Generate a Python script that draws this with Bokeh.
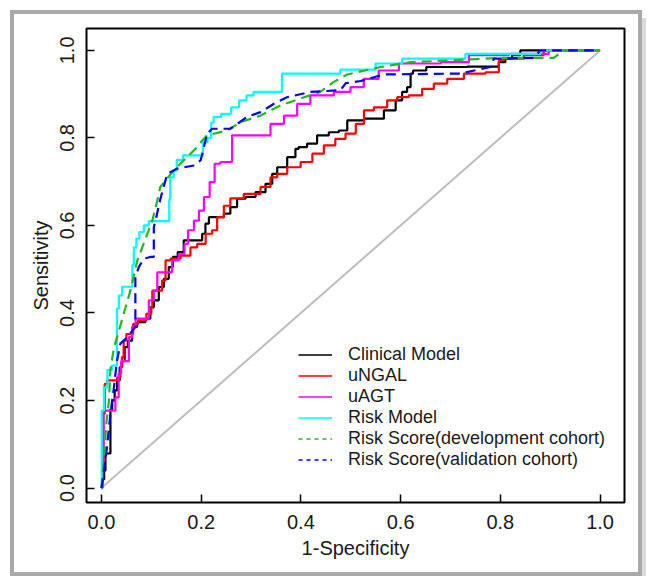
import math
from bokeh.plotting import figure
from bokeh.models import Range1d, FixedTicker, Legend, LegendItem, NumeralTickFormatter
from bokeh.embed import file_html
from bokeh.resources import INLINE

# ---------------- data (1-specificity, sensitivity) ----------------
tick_values = [0.0, 0.2, 0.4, 0.6, 0.8, 1.0]

labels = ["Clinical Model", "uNGAL", "uAGT", "Risk Model",
          "Risk Score(development cohort)", "Risk Score(validation cohort)"]

clinical_fpr = [0, 0.003, 0.008, 0.008, 0.018, 0.018, 0.025, 0.028, 0.035, 0.038, 0.045, 0.048, 0.058, 0.065,
                0.078, 0.098, 0.098, 0.112, 0.118, 0.132, 0.138, 0.148, 0.158, 0.172, 0.199, 0.205, 0.212, 0.219,
                0.239, 0.252, 0.265, 0.279, 0.299, 0.319, 0.339, 0.346, 0.359, 0.386, 0.392, 0.399, 0.426, 0.439,
                0.446, 0.466, 0.486, 0.5, 0.553, 0.58, 0.6, 0.606, 0.62, 0.62, 0.63, 0.673, 0.794, 0.80, 0.82,
                0.827, 0.84, 0.84, 1.0]
clinical_tpr = [0, 0.02, 0.04, 0.079, 0.079, 0.18, 0.2, 0.223, 0.246, 0.276, 0.29, 0.322, 0.337, 0.368,
                0.379, 0.387, 0.413, 0.429, 0.459, 0.478, 0.505, 0.528, 0.539, 0.566, 0.566, 0.581, 0.604, 0.619,
                0.619, 0.627, 0.642, 0.661, 0.665, 0.676, 0.695, 0.718, 0.733, 0.756, 0.775, 0.779, 0.787, 0.806,
                0.806, 0.813, 0.817, 0.84, 0.844, 0.863, 0.886, 0.905, 0.916, 0.947, 0.954, 0.962, 0.963, 0.973,
                0.981, 0.989, 0.989, 1.0, 1.0]

ungal_fpr = [0, 0.003, 0.005, 0.008, 0.015, 0.028, 0.035, 0.041, 0.041, 0.048, 0.052, 0.062, 0.065, 0.082,
             0.098, 0.102, 0.102, 0.118, 0.125, 0.132, 0.145, 0.172, 0.185, 0.199, 0.219, 0.225, 0.239, 0.252,
             0.265, 0.306, 0.332, 0.346, 0.359, 0.386, 0.413, 0.433, 0.459, 0.479, 0.5, 0.52, 0.533, 0.56,
             0.586, 0.6, 0.633, 0.653, 0.68, 0.707, 0.747, 0.794, 0.80, 0.814, 0.88, 0.894, 1.0]
ungal_tpr = [0, 0.05, 0.17, 0.238, 0.246, 0.246, 0.253, 0.276, 0.299, 0.337, 0.352, 0.352, 0.375, 0.383,
             0.398, 0.413, 0.451, 0.451, 0.474, 0.52, 0.524, 0.531, 0.55, 0.558, 0.581, 0.589, 0.619, 0.645,
             0.662, 0.672, 0.688, 0.71, 0.718, 0.733, 0.745, 0.764, 0.783, 0.798, 0.81, 0.832, 0.863, 0.87,
             0.886, 0.893, 0.897, 0.912, 0.924, 0.935, 0.947, 0.95, 0.977, 0.981, 0.989, 1.0, 1.0]

uagt_fpr = [0, 0.003, 0.005, 0.025, 0.031, 0.038, 0.041, 0.052, 0.058, 0.065, 0.072, 0.092, 0.098, 0.112,
            0.112, 0.138, 0.145, 0.165, 0.168, 0.179, 0.192, 0.199, 0.212, 0.222, 0.232, 0.245, 0.279, 0.332,
            0.346, 0.386, 0.399, 0.439, 0.493, 0.506, 0.546, 0.566, 0.627, 0.734, 0.74, 0.894, 0.9, 1.0]
uagt_tpr = [0, 0.06, 0.177, 0.177, 0.207, 0.261, 0.29, 0.29, 0.345, 0.368, 0.387, 0.387, 0.429, 0.451,
            0.493, 0.493, 0.52, 0.535, 0.558, 0.589, 0.611, 0.634, 0.665, 0.699, 0.741, 0.745, 0.806, 0.806,
            0.832, 0.851, 0.878, 0.897, 0.905, 0.916, 0.935, 0.954, 0.97, 0.973, 0.989, 0.992, 1.0, 1.0]

riskmodel_fpr = [0, 0.001, 0.005, 0.005, 0.012, 0.012, 0.030, 0.032, 0.038, 0.045, 0.062, 0.062, 0.068, 0.072,
                 0.08, 0.09, 0.10, 0.136, 0.136, 0.14, 0.15, 0.152, 0.175, 0.202, 0.205, 0.22, 0.22, 0.23,
                 0.25, 0.27, 0.282, 0.30, 0.31, 0.362, 0.362, 0.479, 0.479, 0.55, 0.55, 0.603, 0.603, 0.73,
                 0.73, 0.87, 0.89, 1.0]
riskmodel_tpr = [0, 0.177, 0.177, 0.23, 0.23, 0.27, 0.28, 0.41, 0.44, 0.46, 0.46, 0.51, 0.55, 0.57,
                 0.585, 0.60, 0.61, 0.61, 0.66, 0.71, 0.725, 0.75, 0.76, 0.76, 0.79, 0.80, 0.835, 0.848,
                 0.855, 0.87, 0.886, 0.897, 0.905, 0.905, 0.947, 0.947, 0.956, 0.956, 0.97, 0.97, 0.981, 0.981,
                 0.992, 0.992, 1.0, 1.0]

dev_fpr = [0, 0.004, 0.010, 0.015, 0.018, 0.025, 0.040, 0.058, 0.072, 0.092, 0.102, 0.112, 0.118, 0.145,
           0.192, 0.199, 0.212, 0.252, 0.279, 0.319, 0.359, 0.399, 0.439, 0.466, 0.493, 0.56, 0.62, 0.734,
           0.80, 0.907, 0.927, 1.0]
dev_tpr = [0, 0.05, 0.15, 0.2, 0.27, 0.32, 0.38, 0.451, 0.52, 0.581, 0.611, 0.657, 0.688, 0.726,
           0.779, 0.79, 0.806, 0.817, 0.836, 0.851, 0.874, 0.89, 0.905, 0.928, 0.945, 0.962, 0.973, 0.979,
           0.983, 0.983, 1.0, 1.0]

val_fpr = [0, 0.003, 0.011, 0.018, 0.025, 0.031, 0.038, 0.052, 0.068, 0.068, 0.075, 0.085, 0.098, 0.105,
           0.105, 0.110, 0.118, 0.132, 0.152, 0.185, 0.199, 0.212, 0.222, 0.259, 0.292, 0.319, 0.346, 0.372,
           0.419, 0.479, 0.49, 0.52, 0.566, 0.72, 0.78, 0.787, 0.867, 0.88, 1.0]
val_tpr = [0, 0.02, 0.093, 0.17, 0.23, 0.29, 0.33, 0.345, 0.368, 0.482, 0.505, 0.524, 0.528, 0.528,
           0.596, 0.619, 0.66, 0.718, 0.73, 0.737, 0.749, 0.81, 0.821, 0.821, 0.848, 0.859, 0.878, 0.893,
           0.905, 0.909, 0.925, 0.93, 0.945, 0.947, 0.962, 0.981, 0.983, 1.0, 1.0]

ref_line = [0.0, 1.0]

FONT = "Liberation Sans"

p = figure(width=624, height=558, output_backend="svg", toolbar_location=None,
           x_range=Range1d(-0.030, 1.049), y_range=Range1d(-0.033, 1.050),
           min_border_left=72, min_border_right=14, min_border_top=14, min_border_bottom=70,
           styles={"margin-left": "14px", "margin-top": "14px",
                   "outline": "4px solid #A9A9A9", "outline-offset": "0px",
                   "box-shadow": "8px 4px 0px 0px #DADADA"})
p.xgrid.visible = False
p.ygrid.visible = False
p.background_fill_color = "white"
p.border_fill_color = "white"
p.outline_line_color = "black"
p.outline_line_width = 2
p.outline_line_alpha = 1.0

for ax in (p.xaxis[0], p.yaxis[0]):
    ax.ticker = FixedTicker(ticks=tick_values)
    ax.formatter = NumeralTickFormatter(format="0.0")
    ax.major_tick_in = 8
    ax.major_tick_out = 0
    ax.minor_tick_in = 0
    ax.minor_tick_out = 0
    ax.major_tick_line_color = "black"
    ax.major_tick_line_width = 1.5
    ax.axis_line_color = None
    ax.major_label_text_font = FONT
    ax.major_label_text_font_size = "20px"
    ax.major_label_text_color = "#1a1a1a"
    ax.axis_label_text_font = FONT
    ax.axis_label_text_font_size = "20px"
    ax.axis_label_text_font_style = "normal"
    ax.axis_label_text_color = "#1a1a1a"

p.xaxis.axis_label = "1-Specificity"
p.yaxis.axis_label = "Sensitivity"
p.xaxis.major_label_standoff = 12
p.xaxis.axis_label_standoff = 5
p.yaxis.major_label_orientation = "parallel"
p.yaxis.major_label_standoff = 12
p.yaxis.axis_label_standoff = 6

# diagonal reference
p.line(ref_line, ref_line, line_color="#BEBEBE", line_width=2)

colors = ["#000000", "#FF0000", "#FF00FF", "#00FFFF", "#22B822", "#0000FF"]
series = [(clinical_fpr, clinical_tpr), (ungal_fpr, ungal_tpr), (uagt_fpr, uagt_tpr),
          (riskmodel_fpr, riskmodel_tpr), (dev_fpr, dev_tpr), (val_fpr, val_tpr)]

for i, (fx, fy) in enumerate(series):
    if i < 4:
        p.step(fx, fy, mode="center", line_color=colors[i], line_width=2.2)
    else:
        p.line(fx, fy, line_color=colors[i], line_width=2.2, line_dash="10 6")

# legend-only renderers (thinner lines as in the reference key)
items = []
nan = float("nan")
for i, lab in enumerate(labels):
    dash = "solid" if i < 4 else "4 4"
    r = p.line([nan, nan], [nan, nan], line_color=colors[i], line_width=1.3, line_dash=dash)
    items.append(LegendItem(label=lab, renderers=[r]))

legend = Legend(items=items, location=(212, 32), orientation="vertical",
                glyph_width=34, glyph_height=21, label_height=21, label_standoff=16,
                spacing=0, padding=0, margin=0,
                border_line_color=None, background_fill_alpha=0,
                label_text_font=FONT, label_text_font_size="18px", label_text_color="#1a1a1a")
p.add_layout(legend, "center")

open("out.html", "w").write(file_html(p, INLINE))
